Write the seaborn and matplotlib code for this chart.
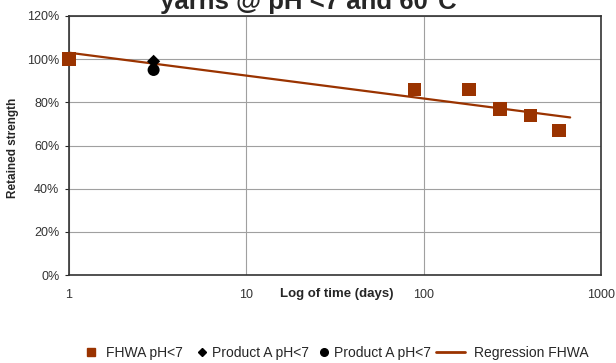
import matplotlib
matplotlib.use("Agg")
import matplotlib.pyplot as plt
from matplotlib.ticker import FixedLocator, FixedFormatter, NullLocator
from matplotlib.lines import Line2D
import seaborn as sns
import pandas as pd

sns.set_style("white")
plt.rcParams["font.family"] = ["Liberation Sans", "DejaVu Sans"]

# FHWA measurements
fhwa_days = [1, 89, 180, 270, 400, 580]
fhwa_strength = [100, 86, 86, 77, 74, 67]

# Product A measurements
prodA_diamond_days = [3]
prodA_diamond_strength = [99]
prodA_circle_days = [3]
prodA_circle_strength = [95]

# Regression line end points for the FHWA data
reg_days = [1, 670]
reg_strength = [103, 73]

x_ticks = [1, 10, 100, 1000]
x_tick_labels = ["1", "10", "100", "1000"]
y_ticks = [0, 20, 40, 60, 80, 100, 120]
y_tick_labels = [f"{v}%" for v in y_ticks]

legend_labels = ["FHWA pH<7", "Product A pH<7", "Product A pH<7", "Regression FHWA"]

brown = "#9a3300"
W, H = 616, 363

fig = plt.figure(figsize=(W / 100, H / 100), dpi=100)
ax = fig.add_axes([69 / W, 1 - 275 / H, (601 - 69) / W, (275 - 16) / H])

sns.lineplot(data=pd.DataFrame({"d": reg_days, "s": reg_strength}), x="d", y="s",
             ax=ax, color=brown, linewidth=1.6, zorder=3)
sns.scatterplot(data=pd.DataFrame({"d": fhwa_days, "s": fhwa_strength}), x="d", y="s",
                ax=ax, marker="s", s=95, color=brown, edgecolor="none", zorder=4, clip_on=False)
sns.scatterplot(data=pd.DataFrame({"d": prodA_diamond_days, "s": prodA_diamond_strength}), x="d", y="s",
                ax=ax, marker="D", s=45, color="black", edgecolor="none", zorder=5)
sns.scatterplot(data=pd.DataFrame({"d": prodA_circle_days, "s": prodA_circle_strength}), x="d", y="s",
                ax=ax, marker="o", s=75, color="black", edgecolor="none", zorder=5)

ax.set_xscale("log")
ax.set_xlim(1, 1000)
ax.set_ylim(0, 120)
ax.xaxis.set_major_locator(FixedLocator(x_ticks))
ax.xaxis.set_major_formatter(FixedFormatter(x_tick_labels))
ax.xaxis.set_minor_locator(NullLocator())
ax.yaxis.set_major_locator(FixedLocator(y_ticks))
ax.yaxis.set_major_formatter(FixedFormatter(y_tick_labels))

ax.grid(True, which="major", color="#a0a0a0", linewidth=0.8)
for sp in ax.spines.values():
    sp.set_color("#333333")
    sp.set_linewidth(1.2)

ax.tick_params(axis="x", labelsize=9, labelcolor="#333333", pad=10, length=0)
ax.tick_params(axis="y", labelsize=9, labelcolor="#333333", pad=4, length=3, left=True)

ax.set_xlabel("Log of time (days)", fontsize=9.5, fontweight="bold")
ax.xaxis.set_label_coords((337 - 69) / 532, -(288 - 275) / 259)
ax.set_ylabel("Retained strength", fontsize=8.5, fontweight="bold")
ax.yaxis.set_label_coords(-(69 - 19) / 532, 0.49)

fig.text(0.5, 0.975, "yarns @ pH <7 and 60°C", ha="center", va="baseline",
         fontsize=18.5, fontweight="bold")

# Legend entries laid out along the bottom edge
fs = 10
em = fs * 100 / 72
entries = [
    (Line2D([], [], marker="s", linestyle="none", color=brown, markersize=6), 84, 1.0, 0.6),
    (Line2D([], [], marker="D", linestyle="none", color="black", markersize=4.5), 195, 1.0, 0.2),
    (Line2D([], [], marker="o", linestyle="none", color="black", markersize=5.5), 317, 1.0, 0.2),
    (Line2D([], [], color=brown, linewidth=2), 436, 2.1, 0.6),
]
for (handle, x_px, hl, pad), label in zip(entries, legend_labels):
    fig.legend([handle], [label], loc="center left",
               bbox_to_anchor=(x_px / W, 1 - 353 / H), frameon=False,
               fontsize=fs, handlelength=hl, handletextpad=pad, borderpad=0,
               borderaxespad=0)

fig.savefig("out.png", dpi=100)
